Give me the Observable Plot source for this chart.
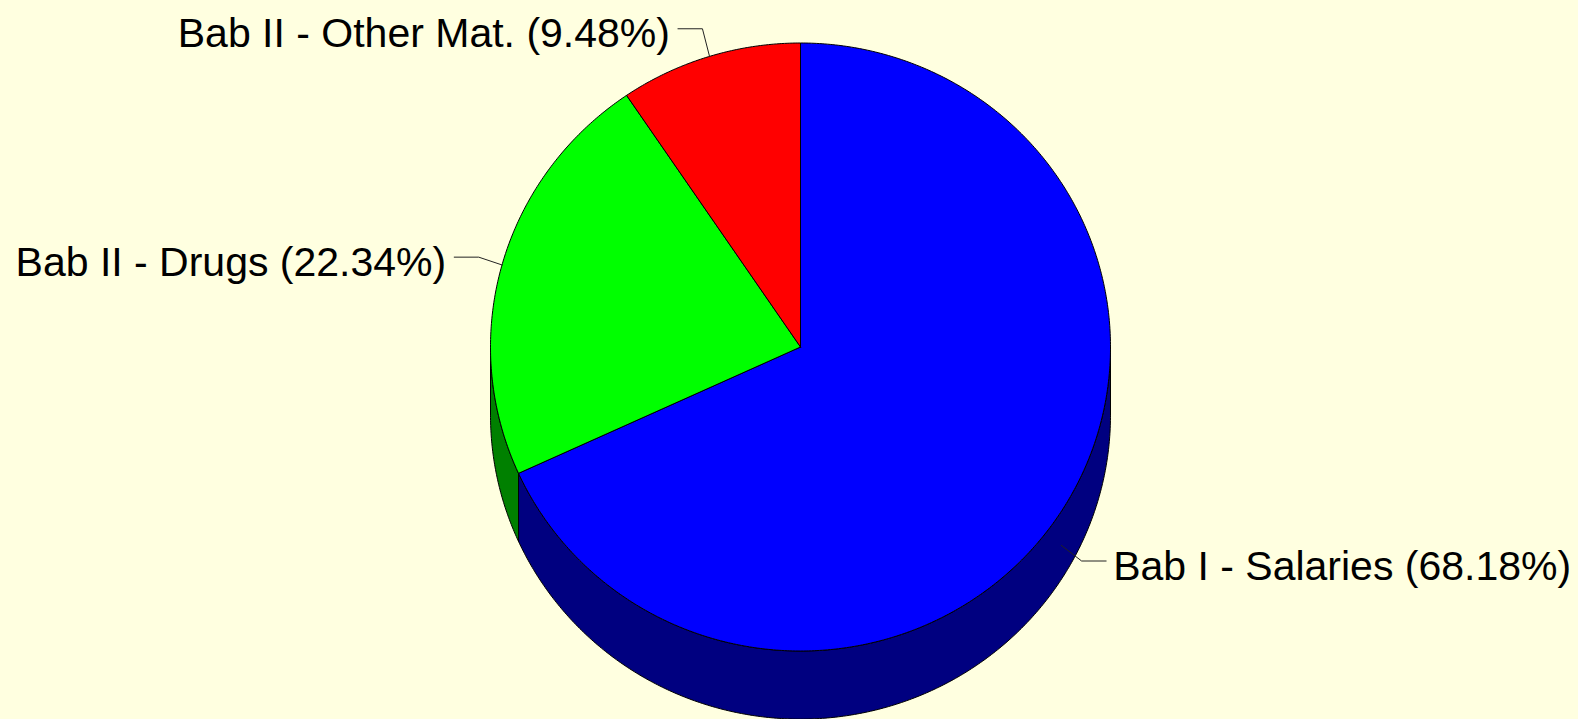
<!DOCTYPE html>
<html>
<head>
<meta charset="utf-8">
<script src="https://cdn.jsdelivr.net/npm/d3@7"></script>
<script src="https://cdn.jsdelivr.net/npm/@observablehq/plot@0.6"></script>
<style>
  html, body { margin: 0; padding: 0; background: #FFFFE0; }
  #chart svg { display: block; }
</style>
</head>
<body>
<div id="chart"></div>
<script>
// ---- data ----
const categories = ["Bab I - Salaries", "Bab II - Drugs", "Bab II - Other Mat."];
const shares = [68.18, 22.34, 9.48];
const topColors = ["#0000FF", "#00FF00", "#FF0000"];
const sideColors = ["#000080", "#008000", "#800000"];

// ---- geometry in data units (unit circle, tilted by the scales) ----
const depth = 0.224;          // thickness of the pie, in y units
const step = 0.5;             // degrees per arc point
const total = d3.sum(shares);
let acc = 0;
const slices = shares.map((v, i) => {
  const a0 = acc / total * 360;
  acc += v;
  const a1 = acc / total * 360;
  return {i, cat: categories[i], v, a0, a1};
});
const pt = (deg, rx, off, ry = rx) => {
  const t = deg * Math.PI / 180;
  return {x: rx * Math.sin(t), y: ry * Math.cos(t) - off};
};
const arc = (a0, a1, r, off) => {
  const pts = [];
  const n = Math.max(2, Math.ceil((a1 - a0) / step));
  for (let k = 0; k <= n; k++) pts.push(pt(a0 + (a1 - a0) * k / n, r, off));
  return pts;
};

const marks = [];
// sides (visible front half: 90..270 deg)
slices.forEach(s => {
  const lo = Math.max(s.a0, 90), hi = Math.min(s.a1, 270);
  if (hi <= lo) return;
  const top = arc(lo, hi, 1, 0);
  const bot = arc(lo, hi, 1, depth).reverse();
  const poly = [...top, ...bot, top[0]];
  marks.push(Plot.line(poly, {x: "x", y: "y", fill: sideColors[s.i], stroke: "black", strokeWidth: 1, curve: "linear"}));
});
// top faces
slices.forEach(s => {
  const c = pt(0, 0, 0);
  const poly = [c, ...arc(s.a0, s.a1, 1, 0), c];
  marks.push(Plot.line(poly, {x: "x", y: "y", fill: topColors[s.i], stroke: "black", strokeWidth: 1, curve: "linear"}));
});

// labels with leader lines
const labels = slices.map(s => {
  const mid = (s.a0 + s.a1) / 2;
  const t = mid * Math.PI / 180;
  const off = Math.cos(t) < 0 ? depth / 2 : 0;
  const anchor = pt(mid, 1, off);
  const elbow = pt(mid, 1.078, off, 1.095);
  const right = Math.sin(t) >= 0;
  const end = {x: elbow.x + (right ? 0.079 : -0.079), y: elbow.y};
  return {s, anchor, elbow, end, right,
    text: `${s.cat} (${s.v.toFixed(2)}%)`};
});
const leaderPts = labels.flatMap((l, j) => [
  {...l.anchor, j}, {...l.elbow, j}, {...l.end, j}
]);
marks.push(Plot.line(leaderPts, {x: "x", y: "y", z: "j", stroke: "#222", strokeWidth: 1, curve: "linear"}));
labels.forEach(l => {
  marks.push(Plot.text([l], {
    x: d => d.end.x, y: d => d.end.y, text: "text",
    textAnchor: l.right ? "start" : "end",
    dx: l.right ? 7 : -8, dy: 5.5,
    fontSize: 41, fill: "black",
    fontFamily: "'Liberation Sans', Arial, sans-serif"
  }));
});

const chart = Plot.plot({
  width: 1578,
  height: 719,
  marginLeft: 490,
  marginRight: 468,
  marginTop: 42.5,
  marginBottom: 68.5,
  x: {domain: [-1, 1], axis: null},
  y: {domain: [-1, 1], axis: null},
  style: {background: "#FFFFE0", overflow: "visible"},
  marks
});
document.getElementById("chart").appendChild(chart);
</script>
</body>
</html>
